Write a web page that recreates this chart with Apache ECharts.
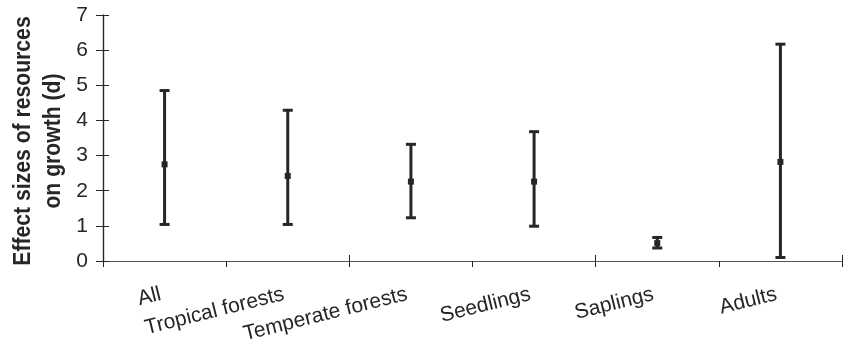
<!DOCTYPE html>
<html>
<head>
<meta charset="utf-8">
<script src="https://cdn.jsdelivr.net/npm/echarts@6/dist/echarts.min.js"></script>
<style>
  html, body { margin: 0; padding: 0; background: #fff; }
  #chart { width: 844px; height: 346px; }
</style>
</head>
<body>
<div id="chart"></div>
<script>
// categories along x
const categories = ['All', 'Tropical forests', 'Temperate forests', 'Seedlings', 'Saplings', 'Adults'];
// effect size d: mean and 95% CI bounds
const meanValues = [2.75, 2.42, 2.26, 2.26, 0.51, 2.82];
const lowerValues = [1.04, 1.04, 1.23, 0.99, 0.37, 0.10];
const upperValues = [4.85, 4.29, 3.32, 3.68, 0.67, 6.17];
const yTicks = [0, 1, 2, 3, 4, 5, 6, 7];
const yTitle = ['Effect sizes of resources', 'on growth (d)'];

const ink = '#262626';
const font = 'Liberation Sans, Arial, sans-serif';

const errData = categories.map((c, i) => [i, lowerValues[i], upperValues[i], meanValues[i]]);

function renderErr(params, api) {
  const x = api.value(0);
  const lo = api.coord([x, api.value(1)]);
  const hi = api.coord([x, api.value(2)]);
  const mid = api.coord([x, api.value(3)]);
  const capW = 5;
  const st = { stroke: ink, lineWidth: 3 };
  return {
    type: 'group',
    children: [
      { type: 'line', shape: { x1: lo[0], y1: lo[1], x2: hi[0], y2: hi[1] }, style: st },
      { type: 'line', shape: { x1: hi[0] - capW, y1: hi[1], x2: hi[0] + capW, y2: hi[1] }, style: st },
      { type: 'line', shape: { x1: lo[0] - capW, y1: lo[1], x2: lo[0] + capW, y2: lo[1] }, style: st },
      { type: 'rect', shape: { x: mid[0] - 3, y: mid[1] - 3, width: 6, height: 6 }, style: { fill: ink } }
    ]
  };
}

const baseY = {
  type: 'value',
  min: yTicks[0],
  max: yTicks[yTicks.length - 1],
  interval: 1,
  splitLine: { show: false },
  axisLine: { show: true, lineStyle: { color: ink, width: 1.2 } }
};
const baseX = {
  type: 'category',
  data: categories,
  boundaryGap: true,
  axisLine: { show: true, lineStyle: { color: '#555', width: 1.2 } }
};

// y title as two rotated, slightly condensed lines
const titleLine = (text, cx) => ({
  type: 'text',
  x: cx,
  y: 141,
  rotation: Math.PI / 2,
  scaleX: 0.92,
  style: {
    text: text,
    fill: ink,
    font: 'bold 23px ' + font,
    textAlign: 'center',
    textVerticalAlign: 'middle'
  }
});

const option = {
  backgroundColor: '#fff',
  animation: false,
  grid: { left: 103, right: 2, top: 15, bottom: 85 },
  graphic: [titleLine(yTitle[0], 24), titleLine(yTitle[1], 54)],
  xAxis: [
    Object.assign({}, baseX, {
      axisTick: { show: true, inside: false, length: 6, lineStyle: { color: ink } },
      axisLabel: { rotate: 14, margin: 32, padding: [0, 4, 0, 0], color: ink, fontFamily: font, fontSize: 21, interval: 0 }
    }),
    Object.assign({}, baseX, {
      position: 'bottom',
      axisTick: { show: true, inside: true, length: 6, lineStyle: { color: ink } },
      axisLabel: { show: false }
    })
  ],
  yAxis: [
    Object.assign({}, baseY, {
      axisTick: { show: true, inside: false, length: 7, lineStyle: { color: ink } },
      axisLabel: { margin: 15, color: ink, fontFamily: font, fontSize: 21 }
    }),
    Object.assign({}, baseY, {
      position: 'left',
      axisTick: { show: true, inside: true, length: 6, lineStyle: { color: ink } },
      axisLabel: { show: false }
    })
  ],
  series: [{
    type: 'custom',
    renderItem: renderErr,
    data: errData,
    encode: { x: 0, y: [1, 2, 3] },
    silent: true
  }]
};

const chart = echarts.init(document.getElementById('chart'), null, { renderer: 'canvas' });
chart.setOption(option);
</script>
</body>
</html>
